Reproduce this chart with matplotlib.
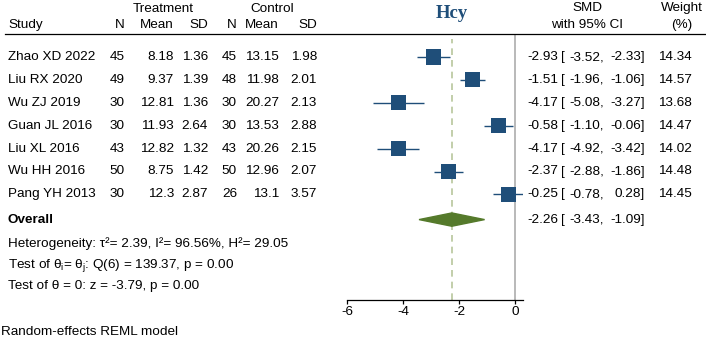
import matplotlib
matplotlib.use("Agg")
import matplotlib.pyplot as plt
import matplotlib.transforms as mtransforms
from matplotlib.patches import Polygon

plt.rcParams['font.family'] = ['Liberation Sans', 'DejaVu Sans']
plt.rcParams['mathtext.fontset'] = 'custom'
plt.rcParams['mathtext.rm'] = 'Liberation Sans'
plt.rcParams['mathtext.it'] = 'Liberation Sans'

# data
studies = ["Zhao XD 2022", "Liu RX 2020", "Wu ZJ 2019", "Guan JL 2016",
           "Liu XL 2016", "Wu HH 2016", "Pang YH 2013"]
n_t = [45, 49, 30, 30, 43, 50, 30]
mean_t = ["8.18", "9.37", "12.81", "11.93", "12.82", "8.75", "12.3"]
sd_t = ["1.36", "1.39", "1.36", "2.64", "1.32", "1.42", "2.87"]
n_c = [45, 48, 30, 30, 43, 50, 26]
mean_c = ["13.15", "11.98", "20.27", "13.53", "20.26", "12.96", "13.1"]
sd_c = ["1.98", "2.01", "2.13", "2.88", "2.15", "2.07", "3.57"]
smd = [-2.93, -1.51, -4.17, -0.58, -4.17, -2.37, -0.25]
ci_lo = [-3.52, -1.96, -5.08, -1.10, -4.92, -2.88, -0.78]
ci_hi = [-2.33, -1.06, -3.27, -0.06, -3.42, -1.86, 0.28]
weight = [14.34, 14.57, 13.68, 14.47, 14.02, 14.48, 14.45]
overall = (-2.26, -3.43, -1.09)

W, H = 706, 343
fig = plt.figure(figsize=(W / 100, H / 100), dpi=100)

# forest axes: x -6..0.28 at px 347..523, y px 34..300
ax_left, ax_right, ax_top, ax_bot = 347, 523, 34, 300
ax = fig.add_axes([ax_left / W, 1 - ax_bot / H, (ax_right - ax_left) / W, (ax_bot - ax_top) / H])
row0, dy = 57, 22.9
ax.set_xlim(-6, 0.28)
ax.set_ylim((ax_bot - row0) / dy, (ax_top - row0) / dy)

blue = '#1F4E79'
green = '#557A2B'
rows = list(range(len(studies)))
ov_row = 7.1

ax.axvline(0, color='#A6A6A6', lw=1.1, zorder=1)
ax.axvline(overall[0], ymin=0, ymax=0.98, color='#B7C69C', lw=1.2, ls=(0, (4, 3)), zorder=1)
ax.hlines(rows, ci_lo, ci_hi, color=blue, lw=1, zorder=2)
ax.scatter(smd, rows, marker='s', s=[w * 8.2 for w in weight], color=blue, zorder=3, linewidths=0)
dh = 0.29
ax.add_patch(Polygon([(overall[1], ov_row), (overall[0], ov_row - dh), (overall[2], ov_row), (overall[0], ov_row + dh)],
                     closed=True, color=green, zorder=3))

for s in ['top', 'right', 'left']:
    ax.spines[s].set_visible(False)
ax.spines['bottom'].set_linewidth(0.9)
ax.set_yticks([])
ax.set_xticks([-6, -4, -2, 0])
ax.set_xticklabels(['-6', '-4', '-2', '0'])
ax.tick_params(axis='x', length=3, width=0.9, labelsize=9.7, pad=1.5)
ax.patch.set_alpha(0)

fs = 9.7
tr = mtransforms.blended_transform_factory(fig.transFigure, ax.transData)


def px(x):
    return x / W


def fy(y):
    return 1 - y / H


# header
fig.text(px(163), fy(9), "Treatment", ha='center', va='center', fontsize=fs)
fig.text(px(272), fy(9), "Control", ha='center', va='center', fontsize=fs)
fig.text(px(8), fy(25), "Study", ha='left', va='center', fontsize=fs)
for xr, lab in [(125, "N"), (174, "Mean"), (208, "SD"), (237, "N"), (279, "Mean"), (317, "SD")]:
    fig.text(px(xr), fy(25), lab, ha='right', va='center', fontsize=fs)
fig.text(px(587), fy(8), "SMD", ha='center', va='center', fontsize=fs)
fig.text(px(587), fy(25), "with 95% CI", ha='center', va='center', fontsize=fs)
fig.text(px(682), fy(8), "Weight", ha='center', va='center', fontsize=fs)
fig.text(px(682), fy(25), "(%)", ha='center', va='center', fontsize=fs)
fig.text(px(452), fy(14), "Hcy", ha='center', va='center', fontsize=13.5, fontweight='bold',
         family='Liberation Serif', color=blue)
fig.add_artist(plt.Line2D([px(5), px(706)], [fy(34), fy(34)], color='black', lw=0.9))

# rows
for i, r in enumerate(rows):
    fig.text(px(8), r, studies[i], transform=tr, ha='left', va='center', fontsize=fs)
    cols = [(125, str(n_t[i])), (174, mean_t[i]), (208, sd_t[i]), (237, str(n_c[i])),
            (279, mean_c[i]), (317, sd_c[i])]
    for xr, val in cols:
        fig.text(px(xr), r, val, transform=tr, ha='right', va='center', fontsize=fs)
    fig.text(px(558), r, "%.2f" % smd[i], transform=tr, ha='right', va='center', fontsize=fs)
    fig.text(px(561), r, "[", transform=tr, ha='left', va='center', fontsize=fs)
    fig.text(px(604), r, "%.2f," % ci_lo[i], transform=tr, ha='right', va='center', fontsize=fs)
    fig.text(px(645), r, "%.2f]" % ci_hi[i], transform=tr, ha='right', va='center', fontsize=fs)
    fig.text(px(692), r, "%.2f" % weight[i], transform=tr, ha='right', va='center', fontsize=fs)

fig.text(px(8), ov_row, "Overall", transform=tr, ha='left', va='center', fontsize=fs, fontweight='bold')
fig.text(px(558), ov_row, "%.2f" % overall[0], transform=tr, ha='right', va='center', fontsize=fs)
fig.text(px(561), ov_row, "[", transform=tr, ha='left', va='center', fontsize=fs)
fig.text(px(604), ov_row, "%.2f," % overall[1], transform=tr, ha='right', va='center', fontsize=fs)
fig.text(px(645), ov_row, "%.2f]" % overall[2], transform=tr, ha='right', va='center', fontsize=fs)

fig.text(px(8), fy(244), "Heterogeneity: \u03c4\u00b2= 2.39, I\u00b2= 96.56%, H\u00b2= 29.05",
         ha='left', va='center', fontsize=fs)
fig.text(px(8), fy(265), r"Test of $\mathregular{\theta_i}$= $\mathregular{\theta_j}$: Q(6) = 139.37, p = 0.00",
         ha='left', va='center', fontsize=fs)
fig.text(px(8), fy(286), "Test of \u03b8 = 0: z = -3.79, p = 0.00", ha='left', va='center', fontsize=fs)
fig.text(px(1), fy(332), "Random-effects REML model", ha='left', va='center', fontsize=fs)

fig.savefig("out.png", dpi=100)
